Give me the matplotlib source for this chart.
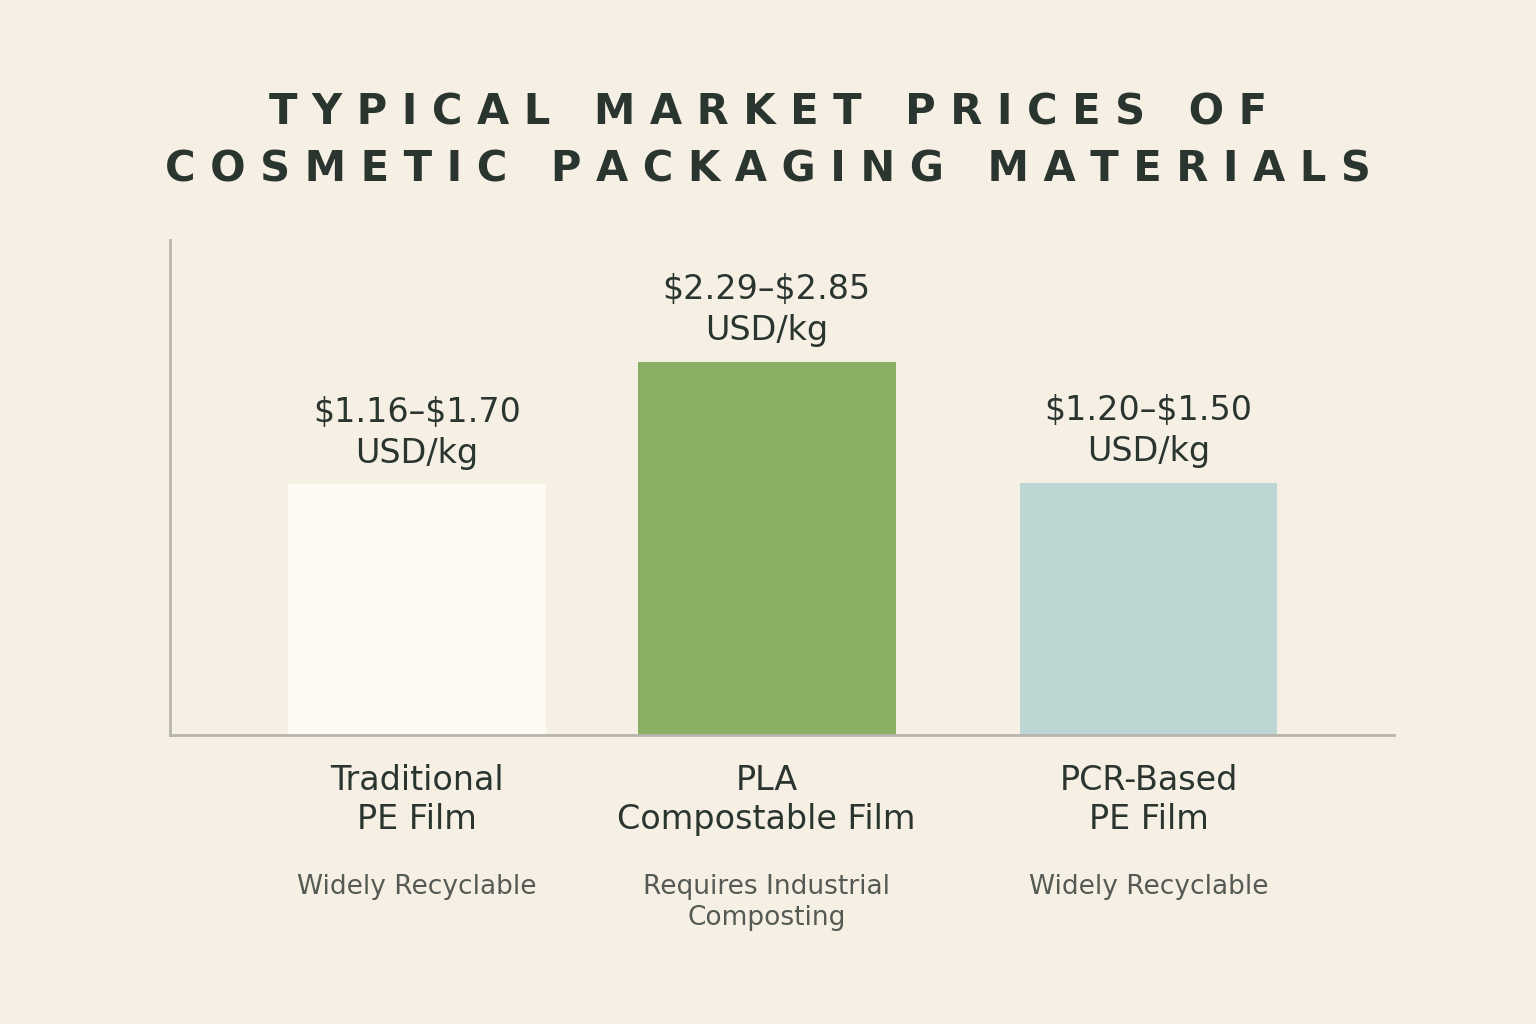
import matplotlib.pyplot as plt

categories = ["Traditional\nPE Film", "PLA\nCompostable Film", "PCR-Based\nPE Film"]
notes = ["Widely Recyclable", "Requires Industrial\nComposting", "Widely Recyclable"]
price_labels = [r"\$1.16\u2013\$1.70" "\nUSD/kg", r"\$2.29\u2013\$2.85" "\nUSD/kg",
                r"\$1.20\u2013\$1.50" "\nUSD/kg"]
price_labels = [p.replace("\\u2013", "\u2013") for p in price_labels]
bar_heights = [1.68, 2.50, 1.69]
colors = ["#fdfaf4", "#8aaf64", "#bcd6d3"]

bg = "#f6f0e4"
ink = "#2a3530"

fig = plt.figure(figsize=(15.36, 10.24), dpi=100, facecolor=bg)
ax = fig.add_axes([0.1107, 0.282, 0.797, 0.484])
ax.set_facecolor(bg)

x = [0, 0.956, 2.0]
ax.bar(x, bar_heights, width=0.705, color=colors, zorder=2)
ax.set_xlim(-0.675, 2.672)
ax.set_ylim(0, 3.32)

for xi, h, lab in zip(x, bar_heights, price_labels):
    ax.text(xi, h + 0.1, lab, ha="center", va="bottom", fontsize=24,
            color=ink, linespacing=1.3, fontweight="medium")

for xi, cat, note in zip(x, categories, notes):
    ax.text(xi, -0.19, cat, ha="center", va="top", fontsize=24, color=ink,
            linespacing=1.25, fontweight="medium")
    ax.text(xi, -0.93, note, ha="center", va="top", fontsize=19, color="#555a55",
            linespacing=1.25)

for s in ["top", "right"]:
    ax.spines[s].set_visible(False)
for s in ["left", "bottom"]:
    ax.spines[s].set_color("#b8b5ac")
    ax.spines[s].set_linewidth(2)
ax.set_xticks([])
ax.set_yticks([])

fig.text(0.5, 0.862, "T Y P I C A L   M A R K E T   P R I C E S   O F\nC O S M E T I C   P A C K A G I N G   M A T E R I A L S",
         ha="center", va="center", fontsize=30, fontweight="bold", color=ink,
         linespacing=1.45)

fig.savefig("out.png", dpi=100, facecolor=bg)
